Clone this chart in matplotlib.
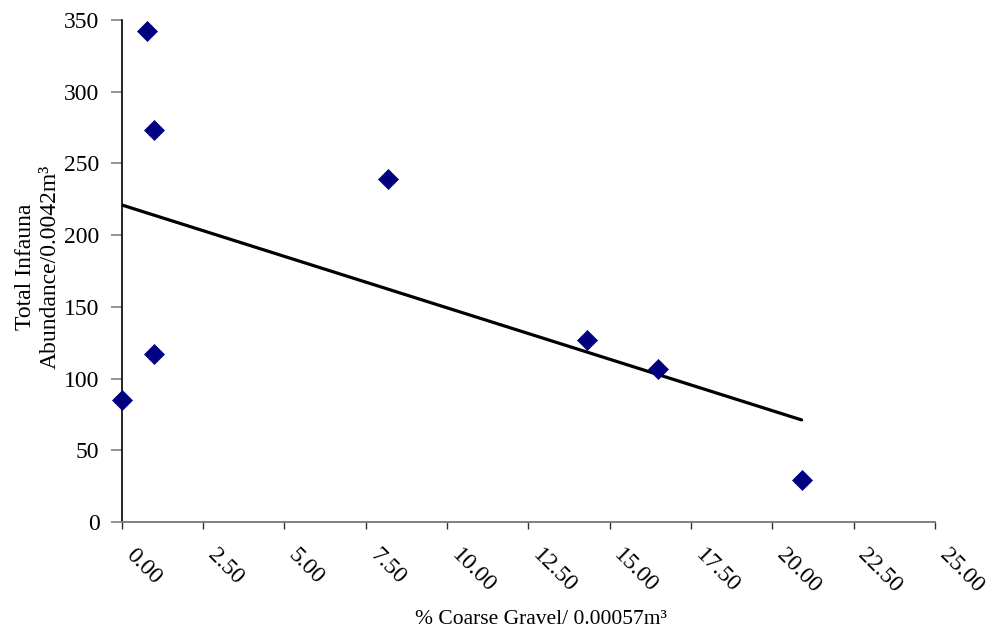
import matplotlib
matplotlib.use("Agg")
import matplotlib.pyplot as plt
import matplotlib.transforms as mtransforms
import numpy as np

gravel = [0.0, 0.77, 1.0, 1.0, 8.2, 14.3, 16.5, 20.9]
abundance = [85, 342, 273, 117, 239, 127, 107, 29]
xticks = [0, 2.5, 5, 7.5, 10, 12.5, 15, 17.5, 20, 22.5, 25]
yticks = [0, 50, 100, 150, 200, 250, 300, 350]

plt.rcParams['font.family'] = ['Liberation Serif', 'DejaVu Serif']

fig = plt.figure(figsize=(9.9, 6.37), dpi=100)
ax = fig.add_axes([121.7/990, 1-522/637, (935-121.7)/990, (522-20)/637])

ax.plot(gravel, abundance, ls='none', marker='D', color='#000080', markersize=10.3,
        markeredgewidth=0.5, zorder=3, clip_on=False)

coef = np.polyfit(gravel, abundance, 1)
xs = np.array([min(gravel), max(gravel)])
ax.plot(xs, np.polyval(coef, xs), color='black', lw=2.3, zorder=2, solid_capstyle='round')

ax.set_xlim(0, 25)
ax.set_ylim(0, 350)
ax.set_xticks(xticks)
ax.set_xticklabels([f"{t:.2f}" for t in xticks], rotation=-45, ha='left', va='top', rotation_mode='anchor')
ax.set_yticks(yticks)
ax.set_yticklabels([str(t) for t in yticks])
ax.tick_params(axis='both', labelsize=17, direction='out')
ax.tick_params(axis='x', pad=9, length=5, color='#303030', width=1.0)
ax.tick_params(axis='y', pad=8, length=8, color='#808080', width=1.2)

offset = mtransforms.ScaledTranslation(15/100, -3/100, fig.dpi_scale_trans)
for lab in ax.get_xticklabels():
    lab.set_transform(lab.get_transform() + offset)

for s in ['top', 'right']:
    ax.spines[s].set_visible(False)
ax.spines['left'].set_color('black')
ax.spines['bottom'].set_color('#808080')
ax.spines['left'].set_linewidth(1.2)
ax.spines['bottom'].set_linewidth(1.4)

fig.text(541/990, 1-619/637, "% Coarse Gravel/ 0.00057m³", ha='center', va='center', fontsize=15.5)
fig.text(38/990, 1-267/637, "Total Infauna\nAbundance/0.0042m³", ha='center', va='center',
         rotation=90, fontsize=17, linespacing=1.25)

fig.savefig("out.png", dpi=100)
